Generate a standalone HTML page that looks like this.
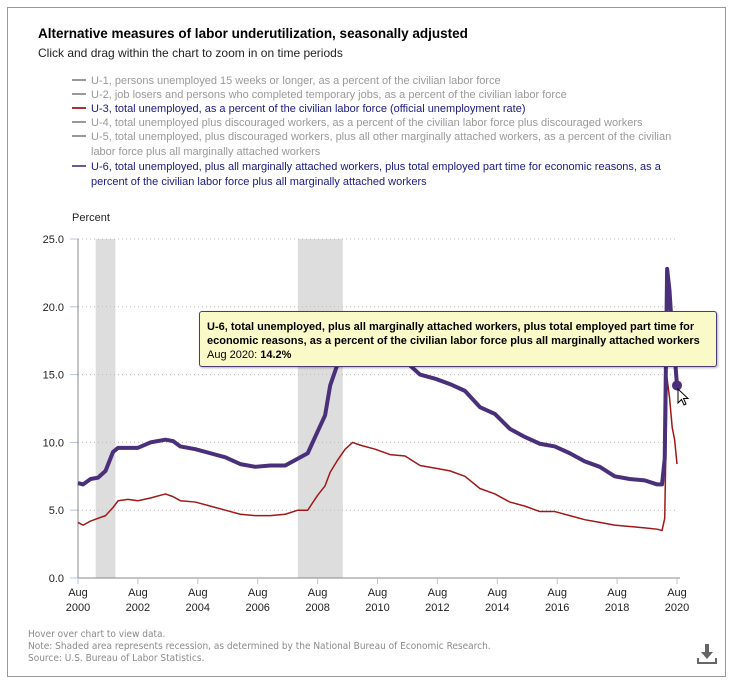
<!DOCTYPE html>
<html><head><meta charset="utf-8"><style>
body{margin:0;background:#fff;width:733px;height:684px;overflow:hidden;font-family:"Liberation Sans",sans-serif;position:relative}
.box{position:absolute;left:7px;top:7px;width:719px;height:670px;border:1px solid #999;box-sizing:border-box}
.t{position:absolute;white-space:nowrap}
.leg{position:absolute;left:72px;font-size:11px;line-height:15px;color:#999}
.leg .sw{display:inline-block;width:14px;height:2px;background:#999;vertical-align:middle;margin-right:5px;position:relative;top:-1px}
.leg.on{color:#1a1a80}
.foot{position:absolute;left:28px;font-size:10px;color:#8a8a8a;font-family:"Liberation Sans Narrow","DejaVu Sans Condensed","Liberation Sans",sans-serif;white-space:nowrap}
</style></head><body>
<div class="box"></div>
<div class="t" style="left:38px;top:26px;font-size:13.5px;font-weight:bold;color:#000">Alternative measures of labor underutilization, seasonally adjusted</div>
<div class="t" style="left:38px;top:46px;font-size:12px;color:#222">Click and drag within the chart to zoom in on time periods</div>
<div class="leg" style="top:74px"><span class="sw"></span>U-1, persons unemployed 15 weeks or longer, as a percent of the civilian labor force</div>
<div class="leg" style="top:88px"><span class="sw"></span>U-2, job losers and persons who completed temporary jobs, as a percent of the civilian labor force</div>
<div class="leg on" style="top:102px"><span class="sw" style="background:#a33"></span>U-3, total unemployed, as a percent of the civilian labor force (official unemployment rate)</div>
<div class="leg" style="top:116px"><span class="sw"></span>U-4, total unemployed plus discouraged workers, as a percent of the civilian labor force plus discouraged workers</div>
<div class="leg" style="top:130px"><span class="sw"></span>U-5, total unemployed, plus discouraged workers, plus all other marginally attached workers, as a percent of the civilian<br><span style="padding-left:19px">labor force plus all marginally attached workers</span></div>
<div class="leg on" style="top:160px"><span class="sw" style="background:#6a5a96"></span>U-6, total unemployed, plus all marginally attached workers, plus total employed part time for economic reasons, as a<br><span style="padding-left:19px">percent of the civilian labor force plus all marginally attached workers</span></div>
<div class="t" style="left:72px;top:212px;font-size:11px;color:#222">Percent</div>
<svg id="c" width="733" height="684" style="position:absolute;left:0;top:0"></svg>
<div style="position:absolute;left:199px;top:311px;width:518px;height:56px;background:#fafac8;border:1px solid #4a3a78;border-radius:3px;box-sizing:border-box;padding:8px 0 0 7px;font-size:11px;line-height:14px;color:#000;box-shadow:1px 1px 2px rgba(0,0,0,.3)"><b>U-6, total unemployed, plus all marginally attached workers, plus total employed part time for economic reasons, as a percent of the civilian labor force plus all marginally attached workers</b><br>Aug 2020: <b>14.2%</b></div>
<svg width="14" height="20" style="position:absolute;left:677px;top:388px"><path d="M1 1 L1 15 L4.5 11.5 L7 17 L9 16 L6.5 10.5 L11 10.5 Z" fill="#fff" stroke="#000" stroke-width="1"/></svg>
<div class="foot" style="top:629px">Hover over chart to view data.</div>
<div class="foot" style="top:641px">Note: Shaded area represents recession, as determined by the National Bureau of Economic Research.</div>
<div class="foot" style="top:653px">Source: U.S. Bureau of Labor Statistics.</div>
<svg width="20" height="22" style="position:absolute;left:697px;top:643px"><path d="M8 1h4v8h4l-6 7-6-7h4z" fill="#666"/><path d="M1 15v5h18v-5" fill="none" stroke="#666" stroke-width="2"/></svg>
<script>
const yTicks=[0,5,10,15,20,25];
const xTickYears=[2000,2002,2004,2006,2008,2010,2012,2014,2016,2018,2020];
const recessions=[[2001.17,2001.83],[2007.92,2009.42]];
const dates=[2000.58,2000.75,2001.0,2001.25,2001.5,2001.75,2001.92,2002.25,2002.58,2003.0,2003.5,2003.75,2004.0,2004.5,2005.0,2005.5,2006.0,2006.5,2007.0,2007.5,2007.92,2008.25,2008.58,2008.83,2009.0,2009.25,2009.5,2009.75,2010.0,2010.5,2011.0,2011.5,2012.0,2012.5,2013.0,2013.5,2014.0,2014.5,2015.0,2015.5,2016.0,2016.5,2017.0,2017.5,2018.0,2018.5,2019.0,2019.5,2019.92,2020.08,2020.17,2020.25,2020.33,2020.42,2020.5,2020.58];
const u3=[4.1,3.9,4.2,4.4,4.6,5.2,5.7,5.8,5.7,5.9,6.2,6.0,5.7,5.6,5.3,5.0,4.7,4.6,4.6,4.7,5.0,5.0,6.1,6.8,7.8,8.7,9.5,10.0,9.8,9.5,9.1,9.0,8.3,8.1,7.9,7.5,6.6,6.2,5.6,5.3,4.9,4.9,4.6,4.3,4.1,3.9,3.8,3.7,3.6,3.5,4.4,14.7,13.3,11.1,10.2,8.4];
const u6=[7.0,6.9,7.3,7.4,7.9,9.3,9.6,9.6,9.6,10.0,10.2,10.1,9.7,9.5,9.2,8.9,8.4,8.2,8.3,8.3,8.8,9.2,10.8,12.0,14.2,15.8,16.6,17.1,16.9,16.6,16.1,16.0,15.0,14.7,14.3,13.8,12.6,12.1,11.0,10.4,9.9,9.7,9.2,8.6,8.2,7.5,7.3,7.2,6.9,6.9,8.8,22.8,21.2,18.0,16.5,14.2];
const NS="http://www.w3.org/2000/svg";
const svg=document.getElementById('c');
const x=d=>78+(d-2000.58)*29.95;
const y=v=>578-v*13.56;
function el(t,a,p){const e=document.createElementNS(NS,t);for(const k in a)e.setAttribute(k,a[k]);(p||svg).appendChild(e);return e;}
recessions.forEach(r=>{
 const e=el('rect',{x:x(r[0]),y:y(25),width:x(r[1])-x(r[0]),height:y(0)-y(25),fill:'#ddd'});
 
 
});
yTicks.forEach(v=>{
 if(v>0){const g=el('line',{x1:78,x2:677,y1:y(v),y2:y(v),stroke:'#bbb','stroke-dasharray':'1,3'});
 
 }
 el('line',{x1:70,x2:78,y1:y(v),y2:y(v),stroke:'#b8c4dc'});
 const t=el('text',{x:64,y:y(v)+4,'text-anchor':'end','font-size':11,fill:'#222','font-family':'Liberation Sans, sans-serif'});
 t.textContent=v.toFixed(1);
 
 
});
el('line',{x1:78,x2:78,y1:y(25),y2:y(0),stroke:'#888'});
el('line',{x1:78,x2:680,y1:y(0),y2:y(0),stroke:'#888'});
xTickYears.forEach(yr=>{
 const px=x(yr+0.58);
 el('line',{x1:px,x2:px,y1:y(0),y2:y(0)+6,stroke:'#b8c4dc'});
 const t=el('text',{x:px,y:596,'text-anchor':'middle','font-size':11,fill:'#222','font-family':'Liberation Sans, sans-serif'});
 t.textContent='Aug';
 
 
 const t2=el('text',{x:px,y:611,'text-anchor':'middle','font-size':11,fill:'#222','font-family':'Liberation Sans, sans-serif'});
 t2.textContent=yr;
 
 
});
function line(vals,col,w,name){
 const p=el('polyline',{points:vals.map((v,i)=>x(dates[i])+','+y(v)).join(' '),fill:'none',stroke:col,'stroke-width':w,'stroke-linejoin':'round'});
 
 
}
line(u3,'#a01818',1.5,'u3-line');
line(u6,'#4a2f7a',4,'u6-line');
const last=dates.length-1;
const m=el('circle',{cx:x(dates[last]),cy:y(u6[last]),r:5,fill:'#4a2f7a'});


</script>
</body></html>
